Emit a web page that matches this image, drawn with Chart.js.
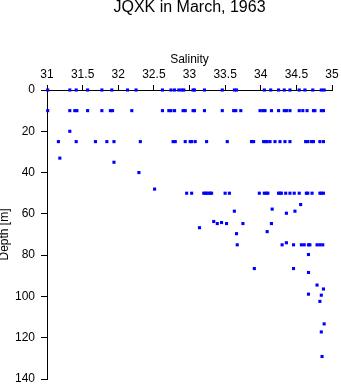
<!DOCTYPE html>
<html>
<head>
<meta charset="utf-8">
<script src="https://cdn.jsdelivr.net/npm/chart.js@4/dist/chart.umd.min.js"></script>
<style>
  html, body { margin: 0; padding: 0; background: #fff; }
  canvas { display: block; }
</style>
</head>
<body>
<canvas id="grafico" width="341" height="384"></canvas>
<script>
// salinity readings and their depths (m)
const salinity = [
  // 0 m
  31.01, 31.32, 31.41, 31.57, 31.77, 31.91, 32.13, 32.25, 32.62, 32.74, 32.79, 32.85,
  32.89, 32.92, 33.05, 33.07, 33.21, 33.46, 33.63, 33.66, 34.05, 34.14, 34.25, 34.33,
  34.41, 34.54, 34.62, 34.73, 34.85, 34.89,
  // 10 m
  31.01, 31.32, 31.39, 31.42, 31.57, 31.77, 31.89, 31.92, 32.19, 32.62, 32.71, 32.74,
  32.79, 32.91, 32.94, 33.05, 33.07, 33.21, 33.46, 33.62, 33.65, 33.72, 33.99, 34.03,
  34.06, 34.15, 34.25, 34.33, 34.36, 34.41, 34.54, 34.59, 34.65, 34.74, 34.76, 34.85, 34.88,
  // 20 - 48 m
  31.32, 31.18, 31.94, 32.29, 32.51,
  // 25 m
  31.16, 31.41, 31.68, 31.84, 31.94, 32.31, 32.77, 32.80, 32.94, 33.01, 33.03, 33.08,
  33.24, 33.53, 33.87, 33.90, 34.04, 34.07, 34.09, 34.13, 34.20, 34.27, 34.34, 34.41,
  34.63, 34.66, 34.71, 34.74, 34.83, 34.88,
  // 50 m
  32.96, 33.03, 33.20, 33.22, 33.24, 33.27, 33.29, 33.31, 33.50, 33.56, 33.98, 34.05,
  34.08, 34.10, 34.25, 34.27, 34.29, 34.35, 34.41, 34.47, 34.54, 34.64, 34.66, 34.72,
  34.83, 34.85, 34.88,
  // 55 - 70 m
  34.56, 34.16, 34.36, 34.48, 33.63, 33.34, 33.39, 33.45, 33.52, 33.14, 33.75, 34.15,
  34.09, 33.66,
  // 75 m
  33.67, 34.30, 34.36, 34.46, 34.57, 34.61, 34.67, 34.69, 34.79, 34.83, 34.87,
  // deeper
  34.67, 33.91, 34.46, 34.67, 34.79, 34.88, 34.67, 34.85, 34.83, 34.89, 34.85, 34.86
];

const depth = [
  0, 0, 0, 0, 0, 0, 0, 0, 0, 0, 0, 0,
  0, 0, 0, 0, 0, 0, 0, 0, 0, 0, 0, 0,
  0, 0, 0, 0, 0, 0,
  10, 10, 10, 10, 10, 10, 10, 10, 10, 10, 10, 10,
  10, 10, 10, 10, 10, 10, 10, 10, 10, 10, 10, 10,
  10, 10, 10, 10, 10, 10, 10, 10, 10, 10, 10, 10, 10,
  20, 33, 35, 40, 48,
  25, 25, 25, 25, 25, 25, 25, 25, 25, 25, 25, 25,
  25, 25, 25, 25, 25, 25, 25, 25, 25, 25, 25, 25,
  25, 25, 25, 25, 25, 25,
  50, 50, 50, 50, 50, 50, 50, 50, 50, 50, 50, 50,
  50, 50, 50, 50, 50, 50, 50, 50, 50, 50, 50, 50,
  50, 50, 50,
  55.5, 57.7, 59.7, 58.7, 58.7, 63.7, 64.7, 64.2, 64.7, 66.7, 64.7, 64.7,
  68.6, 69.6,
  75, 75, 74, 75, 75, 75, 75, 75, 75, 75, 75,
  79.7, 86.5, 86.5, 88.4, 94.5, 96.4, 98.9, 99.4, 102.4, 113.3, 117.2, 129.1
];

const salinityTicks = [31, 31.5, 32, 32.5, 33, 33.5, 34, 34.5, 35];
const salinityLabels = ['31', '31.5', '32', '32.5', '33', '33.5', '34', '34.5', '35'];
const depthTicks = [0, 20, 40, 60, 80, 100, 120, 140];

const fonte = "'Liberation Sans', Arial, Helvetica, sans-serif";
const pontos = salinity.map((s, i) => ({ x: s, y: depth[i] }));

new Chart(document.getElementById("grafico"), {
  type: 'scatter',
  data: {
    datasets: [{
      data: pontos,
      pointStyle: 'rect',
      pointRadius: 2.2,
      pointHoverRadius: 2.2,
      pointBorderWidth: 0,
      backgroundColor: '#0000ff',
      borderColor: '#0000ff',
      clip: false
    }]
  },
  options: {
    responsive: false,
    animation: false,
    devicePixelRatio: 1,
    layout: { padding: { left: 0, right: 9, top: 0, bottom: 5 } },
    plugins: {
      legend: { display: false },
      tooltip: { enabled: false },
      title: {
        display: true,
        text: 'JQXK in March, 1963',
        fullSize: false,
        color: '#000',
        font: { family: fonte, size: 16, weight: 'normal', lineHeight: 1 },
        padding: { top: 0, bottom: 14 }
      }
    },
    scales: {
      x: {
        type: 'linear',
        position: 'top',
        min: 31,
        max: 35,
        afterBuildTicks: (scale) => { scale.ticks = salinityTicks.map(v => ({ value: v })); },
        afterFit: (scale) => {
          scale.height = 60;
          scale.paddingLeft = 0;
          scale.paddingRight = 0;
        },
        ticks: {
          color: '#000',
          font: { family: fonte, size: 12 },
          padding: 3,
          maxRotation: 0,
          autoSkip: false,
          callback: (value, i) => salinityLabels[i]
        },
        grid: { drawOnChartArea: false, drawTicks: true, tickLength: 5, color: '#000' },
        border: { color: '#000', width: 1 },
        title: {
          display: true,
          text: 'Salinity',
          color: '#000',
          font: { family: fonte, size: 12 },
          padding: { top: 22, bottom: 0 }
        }
      },
      y: {
        type: 'linear',
        reverse: true,
        min: 0,
        max: 140,
        afterBuildTicks: (scale) => { scale.ticks = depthTicks.map(v => ({ value: v })); },
        afterFit: (scale) => {
          scale.width = 47;
          scale.paddingTop = 0;
          scale.paddingBottom = 0;
        },
        ticks: {
          color: '#000',
          font: { family: fonte, size: 12 },
          padding: 6,
          autoSkip: false
        },
        grid: { drawOnChartArea: false, drawTicks: true, tickLength: 6, color: '#000' },
        border: { color: '#000', width: 1 },
        title: {
          display: true,
          text: 'Depth [m]',
          color: '#000',
          font: { family: fonte, size: 12, lineHeight: 0.75 },
          padding: { top: 0, bottom: 0 }
        }
      }
    }
  }
});
</script>
</body>
</html>
